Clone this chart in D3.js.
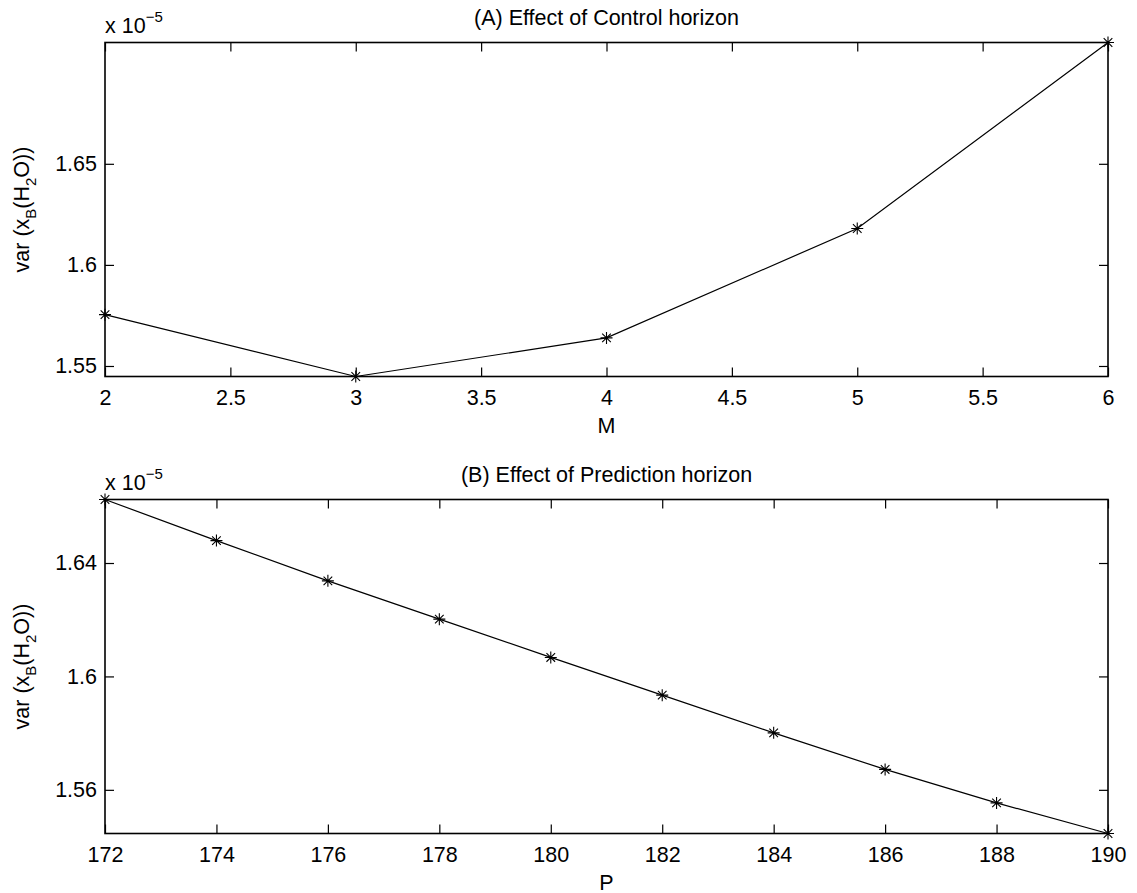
<!DOCTYPE html>
<html>
<head>
<meta charset="utf-8">
<script src="https://cdn.jsdelivr.net/npm/d3@7"></script>
<style>
  html, body { margin: 0; padding: 0; background: #fff; }
  svg { display: block; }
  text { font-family: "Liberation Sans", Arial, Helvetica, sans-serif; fill: #000; }
</style>
</head>
<body>
<svg id="fig" width="1137" height="893"></svg>
<script>
// Panel A: variance vs control horizon M (values in units of 1e-5)
const horizonM = [2, 3, 4, 5, 6];
const varianceM = [1.5754, 1.5448, 1.5639, 1.6180, 1.7100];
const xTicksM = [2, 2.5, 3, 3.5, 4, 4.5, 5, 5.5, 6];
const yTicksM = [1.55, 1.6, 1.65];

// Panel B: variance vs prediction horizon P (values in units of 1e-5)
const horizonP = [172, 174, 176, 178, 180, 182, 184, 186, 188, 190];
const varianceP = [1.6624, 1.6479, 1.6337, 1.6202, 1.6067, 1.5934, 1.5801, 1.5672, 1.5554, 1.5446];
const xTicksP = [172, 174, 176, 178, 180, 182, 184, 186, 188, 190];
const yTicksP = [1.56, 1.6, 1.64];

const svg = d3.select("#fig");
const FS = 21.5;     // main text size
const FS_SMALL = 15; // sub/superscripts

function panel(cfg) {
  const { left, right, top, bottom, xs, ys, xTicks, yTicks, yDomain, title, xLabel } = cfg;
  const x = d3.scaleLinear().domain(d3.extent(xs)).range([left, right]);
  const y = d3.scaleLinear().domain(yDomain).range([bottom, top]);
  const g = svg.append("g");
  const tickLen = 9;

  // ticks pointing inward on all four sides
  const fmt = d => String(d);
  g.append("g").attr("transform", `translate(0,${bottom})`)
    .call(d3.axisBottom(x).tickValues(xTicks).tickSizeInner(-tickLen).tickSizeOuter(0).tickPadding(13).tickFormat(fmt))
    .call(a => a.select(".domain").remove())
    .call(a => a.selectAll("text").style("font-size", FS + "px"));
  g.append("g").attr("transform", `translate(0,${top})`)
    .call(d3.axisTop(x).tickValues(xTicks).tickSizeInner(-tickLen).tickSizeOuter(0).tickFormat(""))
    .call(a => a.select(".domain").remove());
  g.append("g").attr("transform", `translate(${left},0)`)
    .call(d3.axisLeft(y).tickValues(yTicks).tickSizeInner(-tickLen).tickSizeOuter(0).tickPadding(8).tickFormat(fmt))
    .call(a => a.select(".domain").remove())
    .call(a => a.selectAll("text").style("font-size", FS + "px"));
  g.append("g").attr("transform", `translate(${right},0)`)
    .call(d3.axisRight(y).tickValues(yTicks).tickSizeInner(-tickLen).tickSizeOuter(0).tickFormat(""))
    .call(a => a.select(".domain").remove());
  g.selectAll(".tick line").attr("stroke", "#000").attr("stroke-width", 1.2);

  // axes box
  g.append("rect").attr("x", left).attr("y", top)
    .attr("width", right - left).attr("height", bottom - top)
    .attr("fill", "none").attr("stroke", "#000").attr("stroke-width", 1.6);

  const pts = xs.map((v, i) => [v, ys[i]]);
  g.append("path").datum(pts)
    .attr("fill", "none").attr("stroke", "#000").attr("stroke-width", 1.2)
    .attr("d", d3.line().x(d => x(d[0])).y(d => y(d[1])));

  // asterisk markers
  const r = 6, rd = r * 0.72;
  const star = `M${-r},0L${r},0M0,${-r}L0,${r}M${-rd},${-rd}L${rd},${rd}M${-rd},${rd}L${rd},${-rd}`;
  g.selectAll(".mk").data(pts).join("path")
    .attr("class", "mk")
    .attr("transform", d => `translate(${x(d[0])},${y(d[1])})`)
    .attr("d", star).attr("stroke", "#000").attr("stroke-width", 1.1).attr("fill", "none");

  // exponent label
  const ex = g.append("text").attr("x", left).attr("y", top - 9.5).style("font-size", FS + "px");
  ex.append("tspan").text("x 10");
  ex.append("tspan").attr("dy", -11).style("font-size", FS_SMALL + "px").text("\u22125");

  // title
  g.append("text").attr("x", (left + right) / 2).attr("y", top - 18)
    .attr("text-anchor", "middle").style("font-size", FS + "px").text(title);

  // x label
  g.append("text").attr("x", (left + right) / 2).attr("y", bottom + 56)
    .attr("text-anchor", "middle").style("font-size", FS + "px").text(xLabel);

  // y label: var (x_B(H_2O))
  const cy = (top + bottom) / 2;
  const yl = g.append("text").attr("transform", `translate(29,${cy}) rotate(-90)`)
    .attr("text-anchor", "middle").style("font-size", FS + "px");
  yl.append("tspan").text("var (x");
  yl.append("tspan").attr("dy", 7).style("font-size", FS_SMALL + "px").text("B");
  yl.append("tspan").attr("dy", -7).text("(H");
  yl.append("tspan").attr("dy", 7).style("font-size", FS_SMALL + "px").text("2");
  yl.append("tspan").attr("dy", -7).text("O))");
}

panel({
  left: 105, right: 1108, top: 42.5, bottom: 376.5,
  xs: horizonM, ys: varianceM, xTicks: xTicksM, yTicks: yTicksM,
  yDomain: d3.extent(varianceM),
  title: "(A) Effect of Control horizon", xLabel: "M"
});

panel({
  left: 105, right: 1108, top: 499.5, bottom: 833.5,
  xs: horizonP, ys: varianceP, xTicks: xTicksP, yTicks: yTicksP,
  yDomain: d3.extent(varianceP),
  title: "(B) Effect of Prediction horizon", xLabel: "P"
});
</script>
</body>
</html>
